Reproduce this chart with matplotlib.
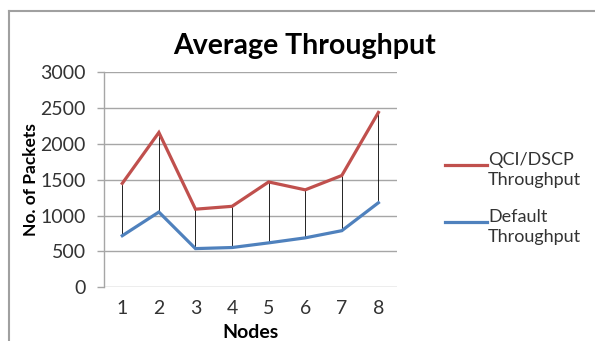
import matplotlib
matplotlib.use("Agg")
import matplotlib.pyplot as plt
from matplotlib.lines import Line2D

plt.rcParams["font.family"] = ["Lato", "DejaVu Sans"]

nodes = [1, 2, 3, 4, 5, 6, 7, 8]
qci_dscp = [1450, 2160, 1090, 1130, 1470, 1360, 1560, 2440]
default = [720, 1050, 540, 555, 620, 690, 790, 1180]
y_ticks = [0, 500, 1000, 1500, 2000, 2500, 3000]
series_names = ["QCI/DSCP\nThroughput", "Default\nThroughput"]

RED = "#C0504D"
BLUE = "#4F81BD"
GRID = "#A6A6A6"
TXT = "#333333"

W, H = 595, 341
fig = plt.figure(figsize=(W / 100, H / 100), dpi=100)
ax = fig.add_axes([104 / W, 1 - 287.3 / H, 292.7 / W, 215 / H])

# frame around the chart area (left and top edges visible)
fig.add_artist(Line2D([9 / W, 9 / W], [0, 1 - 11 / H],
                      transform=fig.transFigure, color="#A0A0A0", lw=1.5))
fig.add_artist(Line2D([9 / W, 1], [1 - 11 / H, 1 - 11 / H],
                      transform=fig.transFigure, color="#A0A0A0", lw=1.5))

for y in y_ticks:
    ax.axhline(y, color=GRID, lw=1.0, zorder=1)

# high-low lines between the two series
ax.vlines(nodes, default, qci_dscp, color="black", lw=0.6, zorder=2)

ax.plot(nodes, qci_dscp, color=RED, lw=2.3, zorder=3, solid_joinstyle="miter")
ax.plot(nodes, default, color=BLUE, lw=2.3, zorder=3, solid_joinstyle="miter")

ax.set_xlim(0.5, 8.5)
ax.set_ylim(0, 3000)
ax.set_xticks(nodes)
ax.set_yticks(y_ticks)
ax.tick_params(axis="x", length=0, pad=9, labelsize=14, colors=TXT)
ax.tick_params(axis="y", length=5, width=1, color=GRID, pad=8,
               labelsize=14, labelcolor=TXT)
for side in ["top", "right", "bottom"]:
    ax.spines[side].set_visible(False)
ax.spines["left"].set_color(GRID)
ax.spines["left"].set_linewidth(1.0)

ax.set_xlabel("Nodes", fontsize=14, fontweight="bold", labelpad=5)
ax.set_ylabel("No. of Packets", fontsize=12.5, fontweight="bold", labelpad=1)
fig.text(305 / W, 1 - 46 / H, "Average Throughput", fontsize=20.5,
         fontweight="bold", ha="center", va="center")

# legend entries: line sample beside the first line of each label
for colour, name, ly in zip([RED, BLUE], series_names, [164.5, 221.5]):
    fig.add_artist(Line2D([445 / W, 487 / W], [1 - ly / H, 1 - ly / H],
                          transform=fig.transFigure, color=colour, lw=2.3))
    fig.text(488 / W, 1 - (ly - 13) / H, name, fontsize=13, color=TXT,
             ha="left", va="top", linespacing=1.32)

fig.savefig("out.png", dpi=100)
